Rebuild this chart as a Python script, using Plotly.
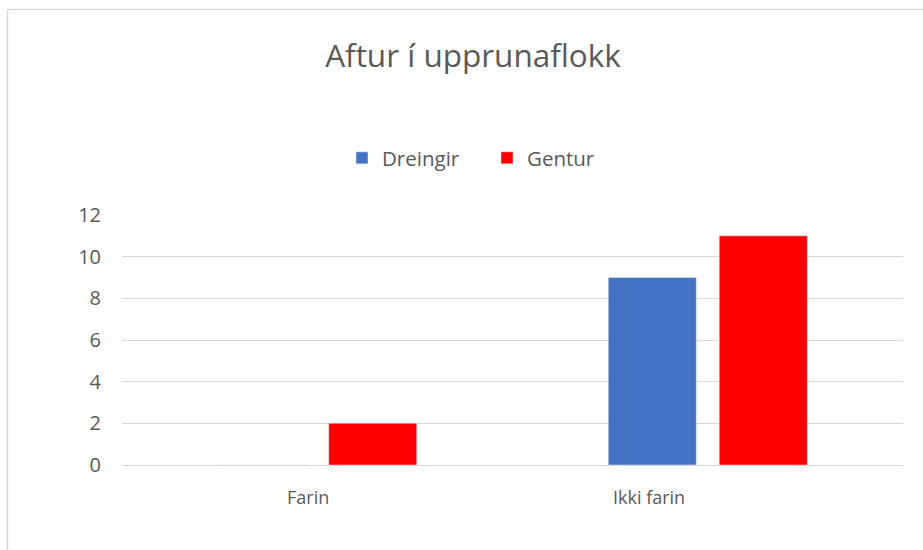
import plotly.graph_objects as go

categories = ["Farin", "Ikki farin"]
dreingir = [0, 9]
gentur = [2, 11]
y_ticks = [0, 2, 4, 6, 8, 10, 12]
label_shift = [-9, -59]

W, H = 923, 550
L, R, T, B = 122, 20, 215, 85
pw, ph = W - L - R, H - T - B

def px_x(p):
    return (p - L) / pw

def px_y(p):
    return (H - B - p) / ph

font = "Open Sans, DejaVu Sans, sans-serif"
grey = "#595959"

fig = go.Figure()
fig.add_trace(go.Bar(name="Dreingir", x=categories, y=dreingir, marker_color="#4472C4"))
fig.add_trace(go.Bar(name="Gentur", x=categories, y=gentur, marker_color="#FF0000"))

for c, s in zip(categories, label_shift):
    fig.add_annotation(x=c, xref="x", y=px_y(497), yref="paper", text=c, showarrow=False,
                       xshift=s, font=dict(family=font, size=18, color=grey),
                       xanchor="center", yanchor="middle")

fig.update_layout(
    width=W, height=H,
    margin=dict(l=L, r=R, t=T, b=B, autoexpand=False),
    paper_bgcolor="white", plot_bgcolor="white",
    barmode="group", bargap=0.4315, bargroupgap=0.207,
    title=dict(text="Aftur í upprunaflokk", x=473 / W, xanchor="center",
               y=1 - 56 / H, yanchor="middle",
               font=dict(family=font, size=31.5, color=grey)),
    legend=dict(orientation="h", x=px_x(487), xanchor="center", y=px_y(158), yanchor="middle",
                font=dict(family=font, size=20.5, color=grey), bgcolor="rgba(0,0,0,0)",
                entrywidth=100, entrywidthmode="pixels"),
    xaxis=dict(showticklabels=False, showgrid=False, showline=False, zeroline=False, fixedrange=True),
    yaxis=dict(range=[0, 12], tickvals=y_ticks, showgrid=True, gridcolor="#D9D9D9", gridwidth=1.3,
               zeroline=True, zerolinecolor="#D9D9D9", zerolinewidth=1.3, showline=False,
               tickfont=dict(family=font, size=20, color=grey), ticklabelstandoff=20,
               fixedrange=True),
    shapes=[
        dict(type="line", xref="paper", yref="paper", x0=px_x(7.5), x1=px_x(7.5),
             y0=px_y(9.5), y1=px_y(560), line=dict(color="#D9D9D9", width=1.5)),
        dict(type="line", xref="paper", yref="paper", x0=px_x(7.5), x1=px_x(930),
             y0=px_y(9.5), y1=px_y(9.5), line=dict(color="#D9D9D9", width=1.5)),
    ],
)

fig.write_html("out.html", config={"displayModeBar": False},
               post_script="document.body.style.margin='0';document.body.style.overflow='hidden';")
